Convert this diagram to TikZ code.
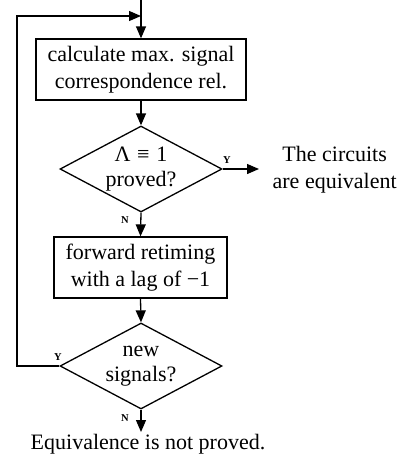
\documentclass[tikz,border=0pt]{standalone}
\usepackage{fontspec}
\setmainfont{Liberation Serif}
\usetikzlibrary{shapes.geometric,arrows.meta}
\begin{document}
\begin{tikzpicture}[x=1pt,y=-1pt,
  line width=1.3pt,
  flow/.style={-{Triangle[length=12pt,width=10pt]}},
  procbox/.style={draw,rectangle,align=center,inner sep=0pt,font=\fontsize{22}{27.5}\selectfont},
  decide/.style={draw,diamond,inner sep=0pt,minimum width=162pt,minimum height=86pt},
  dtext/.style={align=center,font=\fontsize{22}{25}\selectfont},
  plain/.style={align=center,font=\fontsize{22}{27}\selectfont},
  yn/.style={font=\fontsize{10.5}{12}\selectfont\bfseries,inner sep=0pt}]
\useasboundingbox (0,0) rectangle (397,456);

% process boxes
\node[procbox,minimum width=210pt,minimum height=61pt] (calc) at (141,69.5)
  {calculate max. signal\\correspondence rel.};
\node[procbox,minimum width=173pt,minimum height=61pt] (retime) at (140.5,267.5)
  {forward retiming\\with a lag of −1};

% decisions
\node[decide] (lam) at (141,169) {};
\node[dtext] (lamtxt) at (lam) {Λ\hspace{0.3em}≡\hspace{0.3em}1\\proved?};
\node[decide] (newsig) at (141,366) {};
\node[dtext] (newtxt) at (newsig) {new\\signals?};

% outcomes
\node[plain,anchor=west,inner sep=0pt] (equiv) at (272,170) {The circuits\\are equivalent};
\node[plain] (notprov) at (148,444) {Equivalence is not proved.};

% auxiliary points
\coordinate (entry) at (141,0);
\coordinate (join) at (141,16);
\coordinate (stop) at (141,432);
\coordinate (yes) at (259,169);

% connectors
\draw (entry) -- (join);
\draw[flow] (join) -- (calc.north);
\draw[flow] (calc.south) -- (lam.north);
\draw[flow] (lam.east) -- (yes);
\draw[flow] (lam.south) -- (retime.north);
\draw[flow] (retime.south) -- (newsig.north);
\draw[flow] (newsig.west) -- (17,366) -- (17,16) -- (join);
\draw[flow] (newsig.south) -- (stop);

% branch labels
\node[yn] (ly1) at (227,160) {Y};
\node[yn] (ln1) at (125,220) {N};
\node[yn] (ly2) at (58,357) {Y};
\node[yn] (ln2) at (125,418) {N};
\end{tikzpicture}
\end{document}
